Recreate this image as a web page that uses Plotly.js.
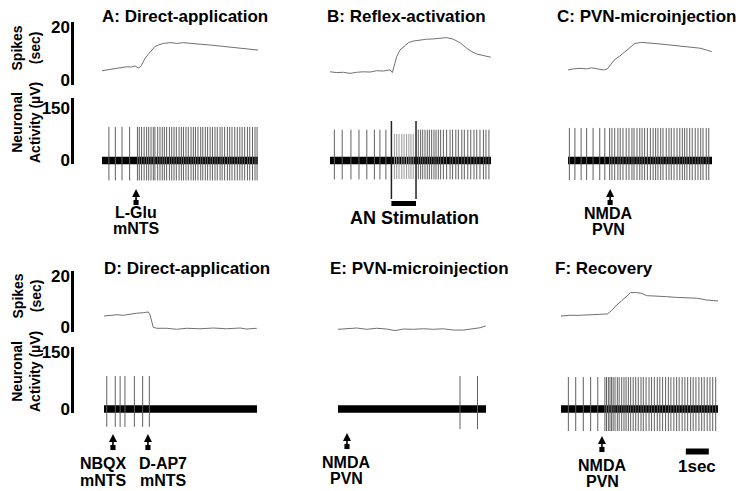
<!DOCTYPE html>
<html><head><meta charset="utf-8">
<script src="https://cdn.plot.ly/plotly-3.0.1.min.js"></script>
<style>html,body{margin:0;padding:0;background:#fff}#chart{width:750px;height:491px}</style>
</head><body><div id="chart"></div>
<script>
// ---------------- DATA ----------------
const panelTitles = ["A: Direct-application","B: Reflex-activation","C: PVN-microinjection",
                     "D: Direct-application","E: PVN-microinjection","F: Recovery"];
const durations = [6.78, 7.0, 6.26, 6.65, 6.43, 6.83];   // seconds shown per panel
const rateTicks = [0, 20];
const neuTicks = [0, 150];

// firing rate (spikes/sec)
const rateTimeA = [0,0.20,0.49,0.78,1.07,1.29,1.43,1.58,1.68,1.77,1.87,2.01,2.16,2.30,2.45,2.67,2.96,3.25,3.54,3.83,4.26,4.70,5.13,5.57,6.00,6.43,6.78];
const rateA     = [3.5,3.8,4.2,4.6,5.0,4.9,5.3,4.6,5.0,6.5,8.2,9.7,11.3,12.6,13.2,13.8,14.1,13.8,14.1,13.8,13.5,13.2,12.8,12.6,12.2,11.7,11.3];
const rateTimeB = [0,0.29,0.58,0.87,1.16,1.45,1.74,2.03,2.32,2.61,2.71,2.78,2.90,3.04,3.22,3.41,3.62,3.91,4.20,4.49,4.78,5.07,5.36,5.65,5.94,6.16,6.38,6.59,6.81,6.99];
const rateB     = [3.1,2.8,2.9,2.5,2.9,3.1,3.0,3.5,3.4,3.8,2.8,5.0,8.8,11.3,12.8,14.1,14.7,15.1,15.4,15.5,15.7,16.0,15.4,14.1,12.0,10.7,9.8,9.4,9.1,8.6];
const rateTimeC = [0,0.23,0.52,0.81,1.03,1.25,1.54,1.71,1.86,2.04,2.26,2.48,2.70,2.91,3.20,3.57,4.00,4.43,4.87,5.30,5.74,6.03,6.25];
const rateC     = [3.8,4.2,4.4,4.2,4.6,4.2,3.8,4.2,5.9,7.8,9.1,10.7,12.6,13.8,14.2,13.8,13.6,13.2,12.8,12.3,12.0,11.3,10.7];
const rateTimeD = [0,0.26,0.55,0.84,1.13,1.42,1.71,1.93,2.00,2.07,2.14,2.29,2.72,3.16,3.59,4.17,4.75,5.33,5.91,6.20,6.64];
const rateD     = [4.3,4.6,4.8,4.6,5.1,5.4,5.6,5.9,4.7,1.7,-0.1,-0.5,-0.5,-0.9,-0.5,-0.7,-0.4,-0.7,-0.4,-0.8,-0.5];
const rateTimeE = [0,0.38,0.81,1.25,1.68,2.12,2.48,2.84,3.27,3.71,4.14,4.58,5.01,5.45,5.81,6.17,6.42];
const rateE     = [-0.9,-0.7,-0.4,-0.9,-0.5,-0.8,-1.4,-0.8,-0.9,-0.7,-0.9,-0.7,-1.2,-1.2,-0.8,-0.3,0.4];
const rateTimeF = [0,0.39,0.83,1.26,1.70,2.01,2.20,2.42,2.64,2.86,3.03,3.29,3.51,3.72,4.16,4.59,5.03,5.46,5.90,6.33,6.83];
const rateF     = [4.3,4.6,4.6,4.7,5.0,5.1,6.4,8.6,10.3,12.2,13.5,13.5,13.2,12.3,12.2,11.9,11.6,11.5,11.3,10.6,10.2];

// spike times (sec)
const spikesA = [0.30,0.58,0.87,1.20,1.54,1.62,1.72,1.83,1.94,2.03,2.13,2.23,2.30,2.42,2.52,2.62,2.71,2.81,2.93,3.03,3.13,3.23,3.35,3.45,3.54,3.65,3.75,3.87,3.97,4.06,4.17,4.29,4.38,4.49,4.59,4.70,4.80,4.91,5.01,5.13,5.22,5.33,5.45,5.55,5.65,5.77,5.88,5.99,6.09,6.20,6.32,6.42,6.54,6.65,6.74];
const spikesB = [0.19,0.53,0.91,1.26,1.60,1.93,2.17,2.43,3.84,3.94,4.03,4.13,4.23,4.32,4.42,4.52,4.61,4.71,4.81,4.93,5.07,5.22,5.33,5.47,5.58,5.73,5.84,5.99,6.12,6.26,6.38,6.52,6.67,6.78,6.91];
const artifactsB = [2.80,2.90,3.00,3.12,3.22,3.33,3.43,3.52,3.62];
const stimB = [2.67, 3.74];          // AN stimulation start / end
const spikesC = [0.06,0.30,0.57,0.81,1.09,1.38,1.60,1.81,1.91,2.03,2.17,2.27,2.39,2.53,2.65,2.78,2.87,3.00,3.12,3.22,3.33,3.45,3.58,3.70,3.81,3.91,4.03,4.13,4.27,4.39,4.49,4.61,4.74,4.86,4.97,5.07,5.17,5.29,5.40,5.53,5.65,5.77,5.87,6.01,6.12];
const spikesD = [0.12,0.49,0.70,0.91,1.32,1.68,1.97];
const spikesE = [5.30,6.06];
const spikesF = [0.32,0.64,0.97,1.29,1.60,1.91,1.98,2.06,2.13,2.20,2.27,2.35,2.45,2.53,2.64,2.74,2.83,2.93,3.03,3.14,3.25,3.36,3.48,3.58,3.70,3.83,3.94,4.06,4.19,4.30,4.42,4.55,4.67,4.78,4.91,5.03,5.14,5.27,5.39,5.51,5.64,5.75,5.87,6.00,6.12,6.23,6.36,6.48,6.60,6.73];
const spikeHi = [96, 88, 93, 87, 87, 84];       // µV
const spikeLo = [-57, -54, -56, -47, -53, -58];  // µV
const artifactHi = 76, artifactLo = -53;

// drug application times (sec) and labels
const drugTimes  = [[1.48],[],[1.83],[0.39,1.91],[0.39],[1.78]];
const drugLabels = [[["L-Glu","mNTS"]],[],[["NMDA","PVN"]],[["NBQX","mNTS"],["D-AP7","mNTS"]],[["NMDA","PVN"]],[["NMDA","PVN"]]];
const scaleBarSec = [5.43, 6.43];   // 1 sec scale bar in panel F

// ---------------- LAYOUT GEOMETRY (pixels) ----------------
const W = 750, H = 491;
const FONT = "Liberation Sans, Arial, Helvetica, sans-serif";
const X_DOM = [[102,258],[330,491],[568,712],[104,257],[338,486],[561,718]];
const ROWS = [
  {rate:{zero:80, ppu:2.65, dom:[15,92],  bar:[22,85]},  neu:{zero:160.5, ppu:0.35, dom:[95,212],  bar:[98,164]}, titleY:17},
  {rate:{zero:327,ppu:2.55, dom:[262,343],bar:[271,332]},neu:{zero:409,   ppu:0.38, dom:[345,462], bar:[347,413]}, titleY:268}
];
const titleLeft = [100,325,555,102,328,553];
const arrowHeadY = [189, 0, 189, 434, 433, 436];
const labelPos = [ [[136,212,229]], [], [[608,213,229.5]], [[103,463,480],[163,463,480]], [[346,462,478]], [[602,465,481]] ];
const val = (g, py) => (g.zero - py) / g.ppu;
const py2paper = py => 1 - py / H;

const rateT = [rateTimeA,rateTimeB,rateTimeC,rateTimeD,rateTimeE,rateTimeF];
const rateV = [rateA,rateB,rateC,rateD,rateE,rateF];
const spikes = [spikesA,spikesB,spikesC,spikesD,spikesE,spikesF];

function vlines(times, lo, hi) {
  const x = [], y = [];
  times.forEach(t => { x.push(t, t, null); y.push(lo, hi, null); });
  return {x, y};
}

const traces = [], layout = {
  width: W, height: H, margin: {l:0, r:0, t:0, b:0},
  paper_bgcolor: "#fff", plot_bgcolor: "rgba(0,0,0,0)", showlegend: false,
  annotations: [], shapes: []
};
const tfont = (s) => ({family: FONT, size: s, color: "#000", weight: "bold"});

for (let i = 0; i < 6; i++) {
  const row = ROWS[i < 3 ? 0 : 1];
  const xid = i === 0 ? "x" : "x" + (i + 1);
  const rId = 2 * i + 1, nId = 2 * i + 2;
  const ry = rId === 1 ? "y" : "y" + rId, ny = "y" + nId;
  const showScale = (i === 0 || i === 3);

  layout["xaxis" + (i === 0 ? "" : i + 1)] = {
    domain: [X_DOM[i][0] / W, X_DOM[i][1] / W], range: [0, durations[i]],
    visible: false, anchor: ry, fixedrange: true
  };
  const mkY = (g, ticks) => {
    const ax = {
      domain: [py2paper(g.dom[1]), py2paper(g.dom[0])],
      range: [val(g, g.dom[1]), val(g, g.dom[0])],
      anchor: xid, showgrid: false, zeroline: false, showline: false, fixedrange: true
    };
    if (showScale) {
      Object.assign(ax, {visible: true, anchor: "free", position: 71 / W, side: "left",
        tickvals: ticks, ticktext: ticks.map(String), ticks: "", tickfont: tfont(17),
        ticklabelstandoff: 1});
    } else ax.visible = false;
    return ax;
  };
  layout["yaxis" + (rId === 1 ? "" : rId)] = mkY(row.rate, rateTicks);
  layout["yaxis" + nId] = mkY(row.neu, neuTicks);

  if (showScale) {
    layout.shapes.push({type: "line", xref: "paper", yref: ry, x0: 72.5 / W, x1: 72.5 / W,
      y0: val(row.rate, row.rate.bar[1]), y1: val(row.rate, row.rate.bar[0]), line: {color: "#000", width: 3}});
    layout.shapes.push({type: "line", xref: "paper", yref: ny, x0: 72.5 / W, x1: 72.5 / W,
      y0: val(row.neu, row.neu.bar[1]), y1: val(row.neu, row.neu.bar[0]), line: {color: "#000", width: 3}});
    const cy1 = (row.rate.bar[0] + row.rate.bar[1]) / 2 - 5;
    const cy2 = (row.neu.bar[0] + row.neu.bar[1]) / 2 - 8;
    layout.annotations.push({text: "Spikes<br>(sec)", textangle: -90, xref: "paper", yref: "paper",
      x: 26 / W, y: py2paper(cy1), showarrow: false, font: tfont(14), xanchor: "center", yanchor: "middle"});
    layout.annotations.push({text: "Neuronal<br>Activity (µV)", textangle: -90, xref: "paper", yref: "paper",
      x: 26 / W, y: py2paper(cy2), showarrow: false, font: tfont(14), xanchor: "center", yanchor: "middle"});
  }

  // rate trace
  traces.push({type: "scatter", mode: "lines", x: rateT[i], y: rateV[i], xaxis: xid, yaxis: ry,
    line: {color: "#707070", width: 1}, hoverinfo: "skip"});
  // baseline noise band
  traces.push({type: "scatter", mode: "lines", x: [0, durations[i]], y: [0, 0], xaxis: xid, yaxis: ny,
    line: {color: "#000", width: 7.5}, hoverinfo: "skip"});
  // spikes
  const sp = vlines(spikes[i], spikeLo[i], spikeHi[i]);
  traces.push({type: "scatter", mode: "lines", x: sp.x, y: sp.y, xaxis: xid, yaxis: ny,
    line: {color: "#606060", width: 1}, hoverinfo: "skip"});

  if (i === 1) {
    const ar = vlines(artifactsB, artifactLo, artifactHi);
    traces.push({type: "scatter", mode: "lines", x: ar.x, y: ar.y, xaxis: xid, yaxis: ny,
      line: {color: "#999", width: 1}, hoverinfo: "skip"});
    const box = vlines(stimB, val(row.neu, 199), val(row.neu, 121));
    traces.push({type: "scatter", mode: "lines", x: box.x, y: box.y, xaxis: xid, yaxis: ny,
      line: {color: "#222", width: 1.5}, hoverinfo: "skip"});
    traces.push({type: "scatter", mode: "lines", x: stimB, y: [val(row.neu, 203.5), val(row.neu, 203.5)],
      xaxis: xid, yaxis: ny, line: {color: "#000", width: 5}, hoverinfo: "skip"});
    layout.annotations.push({text: "AN Stimulation", xref: "paper", yref: "paper", x: 414 / W, y: py2paper(218),
      showarrow: false, font: tfont(18), xanchor: "center", yanchor: "middle"});
  }
  if (i === 5) {
    traces.push({type: "scatter", mode: "lines", x: scaleBarSec, y: [val(row.neu, 451.5), val(row.neu, 451.5)],
      xaxis: xid, yaxis: ny, line: {color: "#000", width: 6}, hoverinfo: "skip"});
    layout.annotations.push({text: "1sec", xref: "paper", yref: "paper", x: 697 / W, y: py2paper(466),
      showarrow: false, font: tfont(17), xanchor: "center", yanchor: "middle"});
  }

  // title
  layout.annotations.push({text: panelTitles[i], xref: "paper", yref: "paper", x: titleLeft[i] / W,
    y: py2paper(row.titleY), showarrow: false, font: tfont(17), xanchor: "left", yanchor: "middle"});

  // drug arrows + labels
  drugTimes[i].forEach((t, k) => {
    layout.annotations.push({text: "", xref: xid, yref: "paper", x: t, y: py2paper(arrowHeadY[i]),
      ax: 0, ay: 15, showarrow: true, arrowhead: 2, arrowsize: 1, arrowwidth: 1.6, arrowcolor: "#000",
      arrowside: "end+start", startarrowhead: 7, startarrowsize: 0.8, standoff: 0, startstandoff: 0});
    const [lx, ly1, ly2] = labelPos[i][k];
    const [l1, l2] = drugLabels[i][k];
    layout.annotations.push({text: l1, xref: "paper", yref: "paper", x: lx / W, y: py2paper(ly1),
      showarrow: false, font: tfont(16), xanchor: "center", yanchor: "middle"});
    layout.annotations.push({text: l2, xref: "paper", yref: "paper", x: lx / W, y: py2paper(ly2),
      showarrow: false, font: tfont(16), xanchor: "center", yanchor: "middle"});
  });
}

Plotly.newPlot("chart", traces, layout, {staticPlot: true, displayModeBar: false});
</script></body></html>
